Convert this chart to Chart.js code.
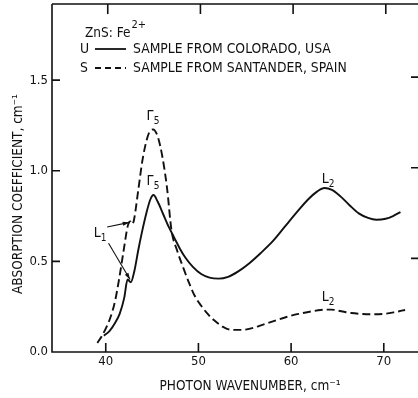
<!DOCTYPE html>
<html>
<head>
<meta charset="utf-8">
<script src="https://cdn.jsdelivr.net/npm/chart.js@4/dist/chart.umd.min.js"></script>
<style>
html,body{margin:0;padding:0;background:#fff;overflow:hidden;width:418px;height:398px;}
canvas{display:block;}
</style>
</head>
<body>
<canvas id="c" width="421" height="398"></canvas>
<script>
// ---- data ----
const uX = [39.8, 40.4, 41.0, 41.5, 42.0, 42.35, 42.7, 43.1, 43.5, 43.9, 44.4, 44.8, 45.15, 45.6, 46.2, 46.8, 47.4, 48.0, 48.6, 49.4, 50.3, 51.2, 52.2, 53.2, 54.3, 55.5, 56.7, 58.0, 59.3, 60.6, 61.8, 62.8, 63.6, 64.4, 65.3, 66.3, 67.3, 68.3, 69.2, 70.2, 71.0, 71.8];
const uY = [0.09, 0.115, 0.16, 0.21, 0.30, 0.40, 0.385, 0.45, 0.56, 0.66, 0.77, 0.84, 0.866, 0.83, 0.76, 0.69, 0.63, 0.57, 0.52, 0.47, 0.43, 0.41, 0.405, 0.415, 0.445, 0.49, 0.545, 0.61, 0.69, 0.77, 0.84, 0.885, 0.905, 0.895, 0.86, 0.81, 0.765, 0.74, 0.73, 0.735, 0.75, 0.772];
const sX = [39.1, 39.6, 40.1, 40.5, 41.0, 41.4, 41.9, 42.4, 42.65, 42.85, 43.05, 43.5, 44.0, 44.6, 45.1, 45.6, 46.1, 46.6, 47.1, 47.7, 48.4, 49.0, 49.6, 50.3, 51.0, 51.7, 52.6, 53.6, 54.6, 55.7, 56.9, 58.2, 59.5, 60.8, 62.0, 63.2, 64.3, 65.4, 66.5, 67.7, 68.9, 70.0, 71.2, 72.3];
const sY = [0.05, 0.09, 0.14, 0.19, 0.28, 0.39, 0.55, 0.70, 0.72, 0.705, 0.73, 0.89, 1.07, 1.20, 1.228, 1.19, 1.08, 0.91, 0.67, 0.56, 0.46, 0.38, 0.31, 0.255, 0.21, 0.175, 0.14, 0.122, 0.122, 0.13, 0.15, 0.172, 0.193, 0.21, 0.222, 0.232, 0.234, 0.225, 0.215, 0.21, 0.208, 0.21, 0.22, 0.232];
const xTicks = [40, 50, 60, 70];
const yTicks = [0.0, 0.5, 1.0, 1.5];
const xTitle = 'PHOTON WAVENUMBER, cm\u207B\u00B9';
const yTitle = 'ABSORPTION COEFFICIENT, cm\u207B\u00B9';
const legendHead = 'ZnS: Fe';
const legendSup = '2+';
const seriesNames = ['SAMPLE FROM COLORADO, USA', 'SAMPLE FROM SANTANDER, SPAIN'];
const seriesKeys = ['U', 'S'];
// annotation labels (data coordinates)
const labelText = ['\u0393', '\u0393', 'L', 'L', 'L'];
const labelSub = ['5', '5', '2', '2', '1'];
const labelX = [45.1, 45.1, 64.0, 64.0, 39.4];
const labelY = [1.30, 0.94, 0.95, 0.30, 0.655];
// L1 arrows: from -> to (data coordinates)
const arrowFromX = [40.15, 40.3];
const arrowFromY = [0.69, 0.60];
const arrowToX = [42.55, 42.62];
const arrowToY = [0.715, 0.40];

const FONT = "'DejaVu Sans Condensed','Liberation Sans Narrow','Arial Narrow',sans-serif";
const pts = (xs, ys) => xs.map((x, i) => ({x: x, y: ys[i]}));

const decor = {
  id: 'decor',
  afterDraw(chart) {
    const ctx = chart.ctx, a = chart.chartArea;
    const xs = chart.scales.x, ys = chart.scales.y;
    ctx.save();
    ctx.strokeStyle = '#111';
    ctx.fillStyle = '#111';
    ctx.lineWidth = 1.6;
    // frame: left, bottom, top
    ctx.beginPath();
    ctx.moveTo(a.left, a.top); ctx.lineTo(a.left, a.bottom); ctx.lineTo(a.right, a.bottom);
    ctx.moveTo(a.left, a.top); ctx.lineTo(a.right, a.top);
    ctx.stroke();
    // inward ticks
    ctx.beginPath();
    xTicks.forEach(v => {
      const px = xs.getPixelForValue(v);
      ctx.moveTo(px, a.bottom); ctx.lineTo(px, a.bottom - 9);
      ctx.moveTo(px + 2, a.top); ctx.lineTo(px + 2, a.top + 10);
    });
    yTicks.forEach(v => {
      if (v === 0) return;
      const py = ys.getPixelForValue(v);
      ctx.moveTo(a.left, py); ctx.lineTo(a.left + 8, py);
      ctx.moveTo(a.right - 1, py - 3); ctx.lineTo(a.right - 8, py - 3);
    });
    ctx.stroke();
    // axis titles
    ctx.font = '13.5px ' + FONT;
    ctx.textBaseline = 'middle';
    ctx.textAlign = 'center';
    ctx.fillText(xTitle, 250, 386);
    ctx.save();
    ctx.translate(18, 194);
    ctx.rotate(-Math.PI / 2);
    ctx.fillText(yTitle, 0, 0);
    ctx.restore();
    // legend
    ctx.textAlign = 'left';
    ctx.font = '13.5px ' + FONT;
    ctx.fillText(legendHead, 85, 33);
    const w = ctx.measureText(legendHead).width;
    ctx.font = '11px ' + FONT;
    ctx.fillText(legendSup, 85 + w + 1, 25);
    ctx.font = '13.8px ' + FONT;
    const rowsY = [49, 68];
    seriesKeys.forEach((k, i) => {
      ctx.fillText(k, 80, rowsY[i]);
      ctx.fillText(seriesNames[i], 133, rowsY[i]);
      ctx.beginPath();
      ctx.lineWidth = 1.8;
      ctx.setLineDash(i === 0 ? [] : [6, 4]);
      ctx.moveTo(95, rowsY[i]); ctx.lineTo(126, rowsY[i]);
      ctx.stroke();
      ctx.setLineDash([]);
    });
    // curve labels
    ctx.textAlign = 'center';
    labelText.forEach((t, i) => {
      const px = xs.getPixelForValue(labelX[i]), py = ys.getPixelForValue(labelY[i]);
      ctx.font = '14px ' + FONT;
      const tw = ctx.measureText(t).width;
      ctx.fillText(t, px - 3, py);
      ctx.font = '10px ' + FONT;
      ctx.fillText(labelSub[i], px - 3 + tw / 2 + 3, py + 5);
    });
    // arrows
    ctx.lineWidth = 1.1;
    arrowFromX.forEach((fx, i) => {
      const x1 = xs.getPixelForValue(fx), y1 = ys.getPixelForValue(arrowFromY[i]);
      const x2 = xs.getPixelForValue(arrowToX[i]), y2 = ys.getPixelForValue(arrowToY[i]);
      ctx.beginPath(); ctx.moveTo(x1, y1); ctx.lineTo(x2, y2); ctx.stroke();
      const ang = Math.atan2(y2 - y1, x2 - x1), L = 7;
      ctx.beginPath();
      ctx.moveTo(x2, y2);
      ctx.lineTo(x2 - L * Math.cos(ang - 0.3), y2 - L * Math.sin(ang - 0.3));
      ctx.lineTo(x2 - L * Math.cos(ang + 0.3), y2 - L * Math.sin(ang + 0.3));
      ctx.closePath(); ctx.fill();
    });
    ctx.restore();
  }
};

new Chart(document.getElementById('c'), {
  type: 'line',
  data: {
    datasets: [
      {label: seriesNames[0], data: pts(uX, uY), borderColor: '#111', borderWidth: 1.9,
       pointRadius: 0, cubicInterpolationMode: 'monotone', fill: false},
      {label: seriesNames[1], data: pts(sX, sY), borderColor: '#111', borderWidth: 1.9,
       borderDash: [8, 4], pointRadius: 0, cubicInterpolationMode: 'monotone', fill: false}
    ]
  },
  options: {
    responsive: false,
    animation: false,
    events: [],
    layout: {padding: {top: 4, right: 2, left: 0, bottom: 0}},
    plugins: {legend: {display: false}, tooltip: {enabled: false}},
    scales: {
      x: {
        type: 'linear', min: 34.2, max: 73.8,
        grid: {display: false, drawTicks: false},
        border: {display: false},
        afterBuildTicks: s => { s.ticks = xTicks.map(v => ({value: v})); },
        afterFit: s => { s.height = 46; s.paddingLeft = 0; s.paddingRight = 0; },
        ticks: {color: '#111', padding: 2, font: {family: FONT, size: 13}, callback: v => String(v)}
      },
      y: {
        type: 'linear', min: 0, max: 1.92,
        grid: {display: false, drawTicks: false},
        border: {display: false},
        afterBuildTicks: s => { s.ticks = yTicks.map(v => ({value: v})); },
        afterFit: s => { s.width = 52; s.paddingTop = 0; s.paddingBottom = 0; },
        ticks: {color: '#111', padding: 4, font: {family: FONT, size: 13}, callback: v => Number(v).toFixed(1)}
      }
    }
  },
  plugins: [decor]
});
</script>
</body>
</html>
